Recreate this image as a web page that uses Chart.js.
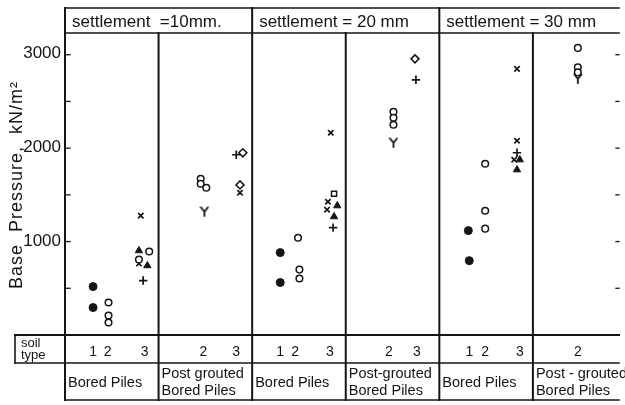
<!DOCTYPE html>
<html>
<head>
<meta charset="utf-8">
<script src="https://cdn.jsdelivr.net/npm/chart.js@4"></script>
<style>
body{margin:0;background:#fff;}
canvas{display:block;}
</style>
</head>
<body>
<canvas id="chart" width="625" height="405"></canvas>
<script>
// ------------------ DATA ------------------
// x = panel index + place of the soil column inside the panel, y = base pressure in kN/m²
const settlementTitles = ["settlement  =10mm.", "settlement = 20 mm", "settlement = 30 mm"];
const pileTypes = [
    ["Bored Piles"], ["Post grouted", "Bored Piles"],
    ["Bored Piles"], ["Post-grouted", "Bored Piles"],
    ["Bored Piles"], ["Post - grouted", "Bored Piles"]
];
const soilTypes = ["1","2","3", "2","3", "1","2","3", "2","3", "1","2","3", "2"];
const soilTypeX = [0.30,0.455,0.85, 1.48,1.83, 2.30,2.46,2.83, 3.46,3.76, 4.32,4.49,4.86, 5.48];
const pressureLabels = [1000, 2000, 3000];

const solidDots = [[0.30,513],[0.30,291],[2.30,873],[2.30,556],[4.31,1106],[4.32,788]];
const openDots = [
    [0.465,344],[0.465,206],[0.465,132],[0.90,884],[0.79,799],
    [1.45,1656],[1.45,1603],[1.51,1561],
    [2.49,1031],[2.505,693],[2.505,598],
    [3.51,2365],[3.51,2302],[3.51,2228],
    [4.49,1815],[4.49,1317],[4.49,1127],
    [5.48,3042],[5.48,2836],[5.48,2783]
];
const crossMarks = [[0.81,1265],[0.79,757],[1.87,1507],[2.84,2143],[2.81,1412],[2.80,1328],[4.83,2820],[4.83,2058],[4.80,1857]];
const plusMarks = [[0.835,577],[1.83,1910],[2.865,1138],[3.75,2704],[4.83,1931]];
const triangles = [[0.79,894],[0.88,735],[2.91,1370],[2.875,1254],[4.86,1857],[4.83,1751]];
const squares = [[2.875,1497]];
const diamonds = [[1.90,1931],[1.87,1590],[3.74,2926]];
const yMarks = [[1.49,1307],[3.51,2037],[5.48,2714]];

const INK = "#151515";
const FONT = "'Liberation Sans', Arial, sans-serif";

// ------------------ "Y" SYMBOL ------------------
function yGlyph(){
    const c = document.createElement("canvas");
    c.width = 10; c.height = 12;
    const g = c.getContext("2d");
    g.strokeStyle = INK; g.lineWidth = 1.8;
    g.beginPath();
    g.moveTo(1,1); g.lineTo(5,6); g.lineTo(9,1);
    g.moveTo(5,6); g.lineTo(5,11);
    g.stroke();
    return c;
}

function points(list){
    return list.map(([x,y]) => ({x, y}));
}

function series(list, style, radius, fill, width){
    return {
        data: points(list),
        pointStyle: style,
        pointRadius: radius,
        borderColor: INK,
        backgroundColor: fill,
        borderWidth: width,
        showLine: false
    };
}

// ------------------ FRAME + TABLE ------------------
const framePlugin = {
    id: "frame",
    afterDraw(chart){
        const {ctx, chartArea: a, scales: {x, y}} = chart;
        const headBottom = a.top + 25;
        const soilBottom = a.bottom + 28;
        const tableBottom = a.bottom + 65;
        const cellLeft = 15;

        ctx.save();
        ctx.strokeStyle = INK;
        ctx.lineCap = "square";

        const line = (x1, y1, x2, y2, w) => {
            ctx.lineWidth = w;
            ctx.beginPath(); ctx.moveTo(x1, y1); ctx.lineTo(x2, y2); ctx.stroke();
        };

        // outer frame and header band
        line(a.left, a.top, a.left, tableBottom, 2);
        line(a.left, a.top, a.right, a.top, 1.6);
        line(a.left, headBottom, a.right, headBottom, 1.6);
        line(cellLeft, a.bottom, a.right, a.bottom, 2);
        line(cellLeft, soilBottom, a.right, soilBottom, 1.6);
        line(cellLeft, a.bottom, cellLeft, soilBottom, 1.6);
        line(a.left, tableBottom, a.right, tableBottom, 1.6);

        // panel dividers
        for(let p = 1; p < 6; p++){
            const px = x.getPixelForValue(p);
            line(px, p % 2 === 0 ? a.top : headBottom, px, tableBottom, 2);
        }

        // pressure ticks on both sides
        y.ticks.forEach(t => {
            if(t.value <= 0 || t.value > 3000) return;
            const py = y.getPixelForValue(t.value);
            const major = t.value % 1000 === 0;
            line(a.left - (major ? 3 : 0), py, a.left + (major ? 8 : 5), py, 1.3);
            line(a.right - (major ? 7 : 3), py, a.right, py, 1.3);
        });

        ctx.fillStyle = INK;

        // pressure labels
        ctx.textAlign = "right";
        ctx.textBaseline = "middle";
        ctx.font = `17px ${FONT}`;
        pressureLabels.forEach(v => {
            ctx.fillText(String(v), a.left - 4, y.getPixelForValue(v) + 1);
        });

        // header texts
        ctx.textBaseline = "alphabetic";
        ctx.textAlign = "left";
        ctx.font = `17px ${FONT}`;
        settlementTitles.forEach((t, i) => {
            ctx.fillText(t, x.getPixelForValue(i * 2) + 7, headBottom - 6);
        });

        // soil type row
        ctx.font = `13px ${FONT}`;
        ctx.fillText("soil", cellLeft + 6, a.bottom + 12);
        ctx.fillText("type", cellLeft + 6, a.bottom + 24);
        ctx.textAlign = "center";
        ctx.font = `14px ${FONT}`;
        soilTypes.forEach((s, i) => {
            ctx.fillText(s, x.getPixelForValue(soilTypeX[i]), a.bottom + 21);
        });

        // pile type row
        ctx.textAlign = "left";
        ctx.font = `14.5px ${FONT}`;
        pileTypes.forEach((lines, p) => {
            const px = x.getPixelForValue(p) + 3;
            if(lines.length === 1){
                ctx.fillText(lines[0], px, soilBottom + 24);
            }else{
                ctx.fillText(lines[0], px, soilBottom + 15);
                ctx.fillText(lines[1], px, soilBottom + 32);
            }
        });

        // axis title
        ctx.translate(17, 185);
        ctx.rotate(-Math.PI / 2);
        ctx.textAlign = "center";
        ctx.textBaseline = "middle";
        ctx.font = `18px ${FONT}`;
        ctx.letterSpacing = "1px";
        ctx.fillText("Base  Pressure,  kN/m²", 0, 0);
        ctx.restore();
    }
};

// ------------------ CHART ------------------
new Chart(document.getElementById("chart"), {
    type: "scatter",
    data: {
        datasets: [
            series(solidDots, "circle", 4, INK, 1),
            series(openDots, "circle", 3.3, "#fff", 1.5),
            series(crossMarks, "crossRot", 3.8, INK, 1.7),
            series(plusMarks, "cross", 4.2, INK, 1.7),
            series(triangles, "triangle", 4.2, INK, 1),
            series(squares, "rect", 3.6, "#fff", 1.5),
            series(diamonds, "rectRot", 4, "#fff", 1.6),
            series(yMarks, yGlyph(), 5, INK, 1)
        ]
    },
    options: {
        responsive: false,
        animation: false,
        layout: {padding: {top: 8, bottom: 70, left: 0, right: 0}},
        plugins: {legend: {display: false}, tooltip: {enabled: false}},
        scales: {
            x: {type: "linear", min: 0, max: 5.92, display: false},
            y: {
                min: 0, max: 3465,
                afterFit(s){ s.width = 65; },
                grid: {display: false, drawTicks: false},
                border: {display: false},
                ticks: {stepSize: 500, display: false}
            }
        }
    },
    plugins: [framePlugin]
});
</script>
</body>
</html>
